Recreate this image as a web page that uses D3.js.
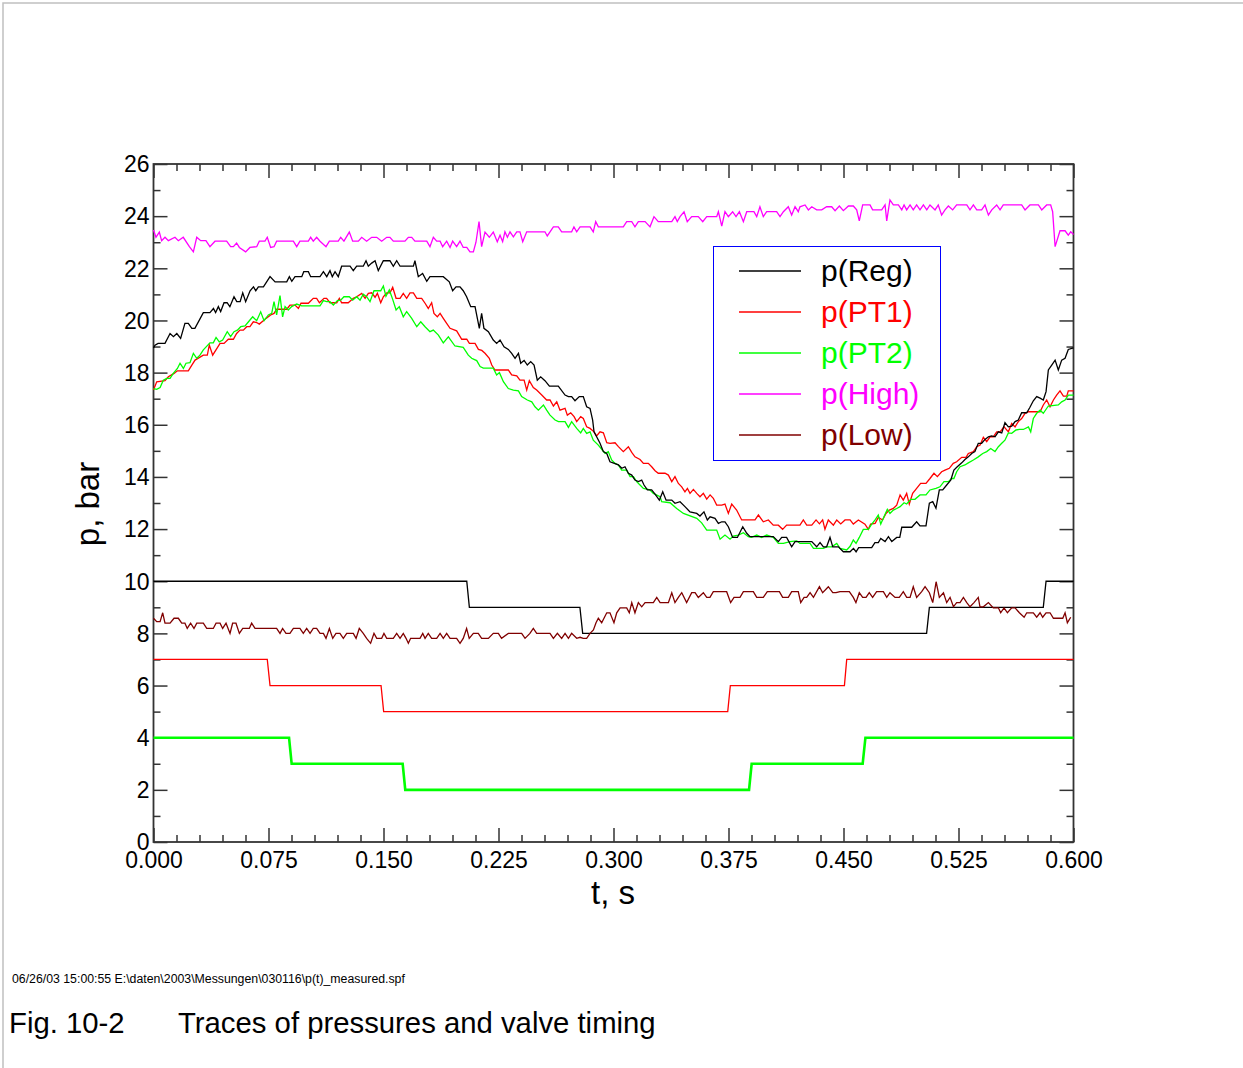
<!DOCTYPE html>
<html>
<head>
<meta charset="utf-8">
<script src="https://cdn.jsdelivr.net/npm/d3@7"></script>
<style>
  html, body { margin: 0; padding: 0; background: #ffffff; }
  svg { display: block; }
  text { font-family: "Liberation Sans", Arial, Helvetica, sans-serif; }
</style>
</head>
<body>
<svg id="chart" width="1243" height="1068"></svg>
<script>
// ---------------- data ----------------
const xTickValues = [0, 0.075, 0.15, 0.225, 0.3, 0.375, 0.45, 0.525, 0.6];
const xTickLabels = ["0.000", "0.075", "0.150", "0.225", "0.300", "0.375", "0.450", "0.525", "0.600"];
const yTickValues = [0, 2, 4, 6, 8, 10, 12, 14, 16, 18, 20, 22, 24, 26];
const yTickLabels = ["0", "2", "4", "6", "8", "10", "12", "14", "16", "18", "20", "22", "24", "26"];

const seriesNames = ["p(Reg)", "p(PT1)", "p(PT2)", "p(High)", "p(Low)"];
const seriesColors = ["#000000", "#ff0000", "#00ff00", "#ff00ff", "#800000"];

// valve timing steps (t in s, value in bar)
const valveRegT = [0, 0.2043, 0.2060, 0.2781, 0.2799, 0.5042, 0.5060, 0.5803, 0.5821, 0.6];
const valveRegV = [10, 10, 9, 9, 8, 8, 9, 9, 10, 10];
const valvePT1T = [0, 0.0742, 0.0760, 0.1484, 0.1501, 0.3745, 0.3762, 0.4506, 0.4521, 0.6];
const valvePT1V = [7, 7, 6, 6, 5, 5, 6, 6, 7, 7];
const valvePT2T = [0, 0.0884, 0.0901, 0.1625, 0.1642, 0.3884, 0.3901, 0.4625, 0.4643, 0.6];
const valvePT2V = [4, 4, 3, 3, 2, 2, 3, 3, 4, 4];

// measured pressures [t, p]
const pReg = [[0,18.95],[0.001,19.05],[0.003,19.12],[0.0075,19.12],[0.0108,19.5],[0.013,19.38],[0.0152,19.5],[0.0177,19.31],[0.0205,19.89],[0.0227,19.89],[0.025,19.7],[0.027,19.7],[0.0325,20.3],[0.0368,20.3],[0.0391,20.46],[0.0405,20.3],[0.0423,20.53],[0.0438,20.34],[0.046,20.68],[0.048,20.68],[0.0498,20.53],[0.0525,20.91],[0.0543,20.72],[0.0565,20.72],[0.0582,21.06],[0.0601,20.72],[0.063,21.14],[0.0652,21.29],[0.0667,21.14],[0.0684,21.29],[0.0717,21.29],[0.076,21.68],[0.0793,21.48],[0.0869,21.48],[0.0886,21.68],[0.0902,21.5],[0.0923,21.68],[0.0967,21.68],[0.098,21.87],[0.101,21.87],[0.1025,21.68],[0.1086,21.68],[0.1108,21.87],[0.113,21.68],[0.1151,21.91],[0.1166,21.68],[0.1184,21.87],[0.1205,21.68],[0.1227,22.08],[0.1282,22.08],[0.1303,21.91],[0.1325,22.08],[0.1368,22.08],[0.1386,22.29],[0.1401,22.08],[0.1423,22.2],[0.1445,22.29],[0.1466,21.91],[0.1499,22.29],[0.1542,22.29],[0.1564,22.08],[0.1586,22.29],[0.1608,22.08],[0.1695,22.08],[0.1705,22.29],[0.1727,21.68],[0.1755,21.8],[0.1782,21.5],[0.1803,21.68],[0.189,21.68],[0.1929,21.48],[0.1951,21.14],[0.1973,21.29],[0.1999,21.29],[0.202,21.14],[0.2042,20.91],[0.2069,20.53],[0.2097,20.53],[0.2125,19.7],[0.214,20.27],[0.2155,19.7],[0.2184,19.57],[0.2216,19.25],[0.2238,19.12],[0.226,19.25],[0.2286,18.99],[0.2314,18.89],[0.2336,18.74],[0.2358,18.55],[0.238,18.74],[0.2395,18.36],[0.2417,18.47],[0.2438,18.29],[0.246,18.42],[0.2482,18.29],[0.2503,17.71],[0.2525,17.84],[0.2553,17.69],[0.2582,17.48],[0.264,17.48],[0.2684,17.14],[0.2706,17.08],[0.2727,17.08],[0.2749,16.92],[0.2777,17.08],[0.2803,17.08],[0.2825,16.69],[0.2847,16.63],[0.2864,16.18],[0.2873,15.73],[0.289,15.54],[0.2912,15.29],[0.2934,14.97],[0.2956,14.9],[0.2977,14.58],[0.301,14.51],[0.3032,14.46],[0.3054,14.33],[0.3075,14.39],[0.3097,14.14],[0.3119,14.07],[0.314,13.88],[0.3162,13.82],[0.3184,13.88],[0.3199,13.69],[0.3221,13.5],[0.3249,13.5],[0.3271,13.34],[0.3299,13.11],[0.3321,13.43],[0.3343,13.11],[0.338,13.11],[0.3401,12.99],[0.3434,13.05],[0.3466,12.86],[0.3499,12.66],[0.3543,12.6],[0.3564,12.5],[0.359,12.66],[0.3612,12.35],[0.363,12.47],[0.3662,12.41],[0.3684,12.22],[0.3706,12.28],[0.3727,12.28],[0.3749,12.09],[0.3777,11.68],[0.3808,11.68],[0.3843,12.09],[0.3869,11.84],[0.389,11.71],[0.3999,11.71],[0.4042,11.71],[0.4075,11.52],[0.4097,11.68],[0.4129,11.68],[0.4162,11.32],[0.4184,11.52],[0.4216,11.52],[0.4293,11.52],[0.4325,11.32],[0.4347,11.48],[0.4369,11.32],[0.439,11.32],[0.4412,11.68],[0.443,11.32],[0.4467,11.32],[0.4499,11.13],[0.4543,11.13],[0.4565,11.26],[0.4582,11.13],[0.4599,11.29],[0.4684,11.29],[0.4705,11.48],[0.4727,11.48],[0.4743,11.64],[0.4771,11.52],[0.4793,11.71],[0.4815,11.52],[0.4847,11.68],[0.4867,11.68],[0.488,12.07],[0.4945,12.07],[0.4977,12.28],[0.4999,12.12],[0.5038,12.12],[0.506,12.99],[0.5082,13.05],[0.5103,12.8],[0.5125,13.5],[0.5147,13.5],[0.5173,13.69],[0.52,13.88],[0.522,14.26],[0.5242,14.39],[0.5271,14.54],[0.5292,14.67],[0.5314,14.77],[0.5336,14.9],[0.5357,14.97],[0.5379,15.29],[0.5401,15.29],[0.5423,15.44],[0.5445,15.54],[0.5466,15.57],[0.5488,15.54],[0.551,15.73],[0.5532,15.69],[0.5553,16.08],[0.5575,15.92],[0.5597,15.95],[0.5619,16.12],[0.564,16.18],[0.5662,16.46],[0.5695,16.46],[0.5716,16.67],[0.5738,16.92],[0.576,17.08],[0.5782,17.02],[0.5803,16.95],[0.5821,17.27],[0.5836,18.1],[0.5858,18.29],[0.588,18.48],[0.5901,18.1],[0.5923,18.48],[0.5945,18.55],[0.5966,18.89],[0.6,18.95]];

const pPT1 = [[0,17.33],[0.0021,17.65],[0.0075,17.69],[0.0097,17.84],[0.0134,17.97],[0.0156,18.07],[0.0227,18.07],[0.025,18.29],[0.0271,18.48],[0.0325,18.67],[0.0351,18.67],[0.0364,19.06],[0.0386,18.67],[0.0434,19.12],[0.046,19.12],[0.0488,19.28],[0.0521,19.28],[0.0542,19.5],[0.0564,19.63],[0.0586,19.63],[0.0608,19.76],[0.0629,19.76],[0.0651,19.95],[0.0673,19.92],[0.069,19.86],[0.0716,19.99],[0.0734,20.08],[0.0764,20.21],[0.0786,20.27],[0.0803,20.43],[0.0869,20.43],[0.089,20.59],[0.0923,20.59],[0.0945,20.46],[0.0962,20.66],[0.101,20.66],[0.1042,20.85],[0.1064,20.85],[0.1082,20.68],[0.1112,20.85],[0.1129,20.85],[0.1151,20.68],[0.1195,20.68],[0.1212,20.85],[0.1227,20.68],[0.127,20.68],[0.1303,20.85],[0.1325,20.91],[0.1358,21.04],[0.138,20.85],[0.1401,21.04],[0.1423,21.06],[0.1445,20.89],[0.146,21.04],[0.1482,20.68],[0.1499,20.91],[0.1521,21.06],[0.1542,21.06],[0.156,21.27],[0.1582,20.85],[0.1608,20.85],[0.1629,21.04],[0.1651,20.85],[0.1673,21.06],[0.1695,21.06],[0.1717,20.85],[0.1749,20.85],[0.1771,20.66],[0.1792,20.46],[0.1814,20.68],[0.1829,20.27],[0.1851,20.14],[0.1869,20.27],[0.189,20.08],[0.1912,19.89],[0.1934,19.7],[0.1977,19.6],[0.201,19.28],[0.2043,19.28],[0.206,19.12],[0.2097,19.12],[0.2119,18.89],[0.2141,18.85],[0.2162,18.74],[0.219,18.55],[0.2206,18.29],[0.2227,18.1],[0.2314,18.1],[0.2336,17.91],[0.2369,17.88],[0.239,17.71],[0.2417,17.71],[0.2434,17.33],[0.2451,17.69],[0.2477,17.43],[0.2499,17.33],[0.2532,17.14],[0.2564,16.95],[0.2586,16.95],[0.2608,16.72],[0.263,16.88],[0.2651,16.56],[0.2684,16.63],[0.2699,16.37],[0.2721,16.46],[0.2743,16.31],[0.276,16.12],[0.2786,16.31],[0.2803,16.24],[0.2825,15.92],[0.2847,15.86],[0.2873,15.73],[0.289,15.57],[0.2912,15.73],[0.2934,15.69],[0.2956,15.31],[0.2977,15.29],[0.301,15.31],[0.3032,15.16],[0.3064,14.97],[0.3097,15.16],[0.3119,14.94],[0.314,14.77],[0.3173,14.67],[0.3195,14.52],[0.3227,14.52],[0.3249,14.39],[0.3271,14.24],[0.3292,14.14],[0.3336,14.14],[0.3358,14.07],[0.338,13.82],[0.3401,14.01],[0.3423,13.75],[0.3445,13.62],[0.3466,13.43],[0.3482,13.56],[0.3499,13.37],[0.3521,13.52],[0.3543,13.37],[0.3564,13.24],[0.3586,13.37],[0.3608,13.15],[0.363,13.31],[0.3651,13.18],[0.3673,12.92],[0.3706,12.92],[0.3727,12.96],[0.3749,12.6],[0.3771,12.96],[0.3803,12.73],[0.3836,12.35],[0.3923,12.35],[0.3945,12.54],[0.3977,12.28],[0.401,12.35],[0.4042,12.15],[0.4075,12.15],[0.4103,11.99],[0.4129,12.15],[0.4216,12.15],[0.4238,12.35],[0.426,12.15],[0.4293,12.15],[0.4321,12.35],[0.4343,12.2],[0.4364,12.35],[0.4379,11.99],[0.4401,12.35],[0.4434,12.15],[0.4456,12.35],[0.4482,12.2],[0.451,12.35],[0.4543,12.35],[0.4564,12.19],[0.4597,12.35],[0.464,12.19],[0.4662,11.99],[0.4677,12.19],[0.4706,12.22],[0.4727,12.45],[0.4755,12.35],[0.4777,12.6],[0.4799,12.73],[0.4825,12.79],[0.4847,12.92],[0.4869,13.31],[0.489,13.11],[0.4912,13.37],[0.4929,12.96],[0.4951,13.37],[0.4977,13.56],[0.5003,13.75],[0.5038,13.75],[0.5064,13.94],[0.509,14.14],[0.5112,14.01],[0.514,14.2],[0.5162,14.26],[0.519,14.33],[0.5216,14.52],[0.5238,14.58],[0.5271,14.75],[0.5299,14.75],[0.5314,14.9],[0.5347,14.97],[0.5369,15.16],[0.5391,15.22],[0.5412,15.52],[0.5434,15.35],[0.5456,15.54],[0.5477,15.54],[0.5499,15.73],[0.5521,15.73],[0.5547,15.92],[0.5575,15.73],[0.5597,16.05],[0.5619,15.92],[0.564,16.12],[0.5662,16.24],[0.5684,16.44],[0.5706,16.5],[0.5749,16.5],[0.5782,16.5],[0.5803,16.76],[0.5825,16.95],[0.5847,16.69],[0.5869,16.95],[0.589,17.14],[0.5912,17.3],[0.5934,17.1],[0.5956,17.1],[0.5966,17.3],[0.6,17.3]];

const pPT2 = [[0,17.39],[0.0021,17.36],[0.0043,17.43],[0.0064,17.71],[0.0086,17.78],[0.0108,17.78],[0.0129,17.97],[0.0156,18.16],[0.0173,18.36],[0.0195,18.16],[0.0212,18.36],[0.0238,18.38],[0.026,18.74],[0.0282,18.55],[0.0303,18.67],[0.0325,18.87],[0.0368,19.14],[0.039,19.14],[0.0408,19.35],[0.0429,19.18],[0.0451,19.25],[0.0481,19.57],[0.0503,19.38],[0.0525,19.57],[0.0547,19.63],[0.0569,19.76],[0.0597,19.79],[0.0625,19.99],[0.0647,20.14],[0.0673,19.99],[0.0699,20.33],[0.0721,19.99],[0.0749,20.21],[0.0771,20.27],[0.0786,20.72],[0.0803,20.21],[0.0825,20.95],[0.0842,20.14],[0.0858,20.53],[0.0879,20.4],[0.0901,20.53],[0.0934,20.63],[0.0966,20.56],[0.1086,20.56],[0.1108,20.76],[0.1129,20.72],[0.1151,20.72],[0.1173,20.59],[0.1199,20.76],[0.1221,20.78],[0.1242,20.91],[0.1277,20.91],[0.1299,20.78],[0.1325,20.91],[0.1347,20.78],[0.1368,21.01],[0.139,20.91],[0.1412,20.72],[0.1438,21.14],[0.1482,21.14],[0.1499,21.32],[0.1516,20.93],[0.1538,21.17],[0.156,20.81],[0.1582,20.4],[0.1603,20.53],[0.1629,20.14],[0.1651,20.34],[0.1684,20.08],[0.1717,19.76],[0.1743,19.95],[0.1771,19.76],[0.1803,19.57],[0.1825,19.63],[0.1858,19.44],[0.189,19.14],[0.1923,19.37],[0.1966,19.02],[0.202,18.97],[0.2053,18.67],[0.2075,18.55],[0.209,18.51],[0.2108,18.46],[0.213,18.23],[0.2151,18.17],[0.2216,18.17],[0.2238,17.91],[0.2256,18.0],[0.2282,17.65],[0.2314,17.39],[0.2347,17.33],[0.238,17.3],[0.2401,17.08],[0.2438,16.95],[0.2467,16.88],[0.2488,16.69],[0.251,16.56],[0.2543,16.76],[0.2564,16.56],[0.2586,16.37],[0.2619,16.18],[0.2641,16.12],[0.2684,16.12],[0.2706,15.9],[0.2727,16.12],[0.276,15.86],[0.2786,15.69],[0.2803,15.86],[0.2825,15.67],[0.2847,15.73],[0.2868,15.41],[0.2901,15.22],[0.2923,15.06],[0.2945,14.9],[0.2966,14.97],[0.2988,14.65],[0.301,14.52],[0.3032,14.46],[0.3053,14.26],[0.3086,14.26],[0.3108,14.01],[0.313,14.01],[0.3151,13.82],[0.3173,13.69],[0.3195,13.56],[0.3238,13.5],[0.326,13.37],[0.3304,13.24],[0.3314,13.05],[0.3369,13.01],[0.3412,12.79],[0.3456,12.6],[0.3543,12.41],[0.3575,12.24],[0.3608,11.96],[0.3673,11.96],[0.3695,11.61],[0.3727,11.77],[0.376,11.61],[0.3781,11.73],[0.3814,11.77],[0.3847,11.86],[0.3879,11.71],[0.3901,11.68],[0.3934,11.77],[0.3966,11.68],[0.3999,11.77],[0.4042,11.68],[0.4075,11.45],[0.4108,11.45],[0.4151,11.52],[0.4195,11.55],[0.4216,11.45],[0.4282,11.45],[0.4304,11.26],[0.4369,11.26],[0.439,11.32],[0.4423,11.32],[0.4456,11.45],[0.4477,11.26],[0.4521,11.2],[0.4543,11.34],[0.4564,11.58],[0.4582,11.45],[0.4603,11.68],[0.4629,11.99],[0.4662,11.99],[0.4684,12.19],[0.4706,12.35],[0.4727,12.54],[0.4743,12.19],[0.4764,12.47],[0.4786,12.76],[0.4803,12.6],[0.4825,12.73],[0.4847,12.79],[0.4869,12.86],[0.4895,13.01],[0.4912,12.96],[0.4938,13.14],[0.4966,13.14],[0.4999,13.31],[0.5038,13.31],[0.5064,13.5],[0.5103,13.56],[0.5129,13.62],[0.5155,13.82],[0.5184,13.82],[0.5205,13.94],[0.522,13.94],[0.5238,14.2],[0.526,14.39],[0.5292,14.46],[0.5314,14.54],[0.5347,14.65],[0.5379,14.77],[0.5408,14.9],[0.5434,14.97],[0.546,15.09],[0.5488,14.97],[0.551,15.16],[0.5532,15.29],[0.5553,15.41],[0.5575,15.69],[0.5597,15.67],[0.5625,15.8],[0.5647,15.82],[0.5673,15.82],[0.5706,15.92],[0.5721,15.73],[0.5738,16.24],[0.576,16.44],[0.5782,16.56],[0.5803,16.44],[0.5836,16.72],[0.5901,16.76],[0.5923,16.88],[0.5945,16.95],[0.5966,17.14],[0.6,17.14]];

const pHigh = [[0,23.47],[0.0016,23.19],[0.0038,23.39],[0.0053,23.06],[0.0075,23.19],[0.0097,23.06],[0.014,23.19],[0.0162,23.06],[0.0194,23.19],[0.0234,22.83],[0.026,22.63],[0.0282,23.19],[0.0308,23.06],[0.0342,23.06],[0.0368,22.83],[0.0401,23.04],[0.0477,23.04],[0.0503,22.83],[0.0521,22.83],[0.0542,22.97],[0.056,22.8],[0.0601,22.63],[0.0629,22.8],[0.0673,22.83],[0.069,23.04],[0.0727,23.04],[0.0742,23.19],[0.0764,22.8],[0.0786,22.83],[0.0803,23.04],[0.0912,23.04],[0.0934,22.83],[0.0955,23.04],[0.101,23.04],[0.1025,23.19],[0.1042,23.04],[0.1064,23.19],[0.1086,23.04],[0.1125,22.83],[0.1147,23.04],[0.1205,23.04],[0.1221,23.19],[0.1242,23.04],[0.1277,23.39],[0.1299,23.04],[0.1336,23.04],[0.1358,23.19],[0.139,23.04],[0.1423,23.19],[0.1456,23.19],[0.1488,23.04],[0.1521,23.19],[0.1542,23.19],[0.1564,23.04],[0.164,23.04],[0.1662,23.19],[0.1684,23.19],[0.1705,23.04],[0.1782,23.04],[0.1803,22.83],[0.1825,23.19],[0.1847,23.04],[0.1869,23.04],[0.1886,22.83],[0.1912,23.04],[0.1934,22.8],[0.1951,23.04],[0.1977,22.83],[0.1999,23.04],[0.202,22.8],[0.2043,22.8],[0.2064,22.63],[0.2086,22.63],[0.2103,23.0],[0.2123,23.79],[0.214,22.83],[0.2162,23.39],[0.219,23.19],[0.2216,23.39],[0.2242,23.02],[0.226,23.27],[0.2277,23.02],[0.2292,23.4],[0.2308,23.19],[0.2325,23.4],[0.2347,23.21],[0.2369,23.4],[0.239,23.4],[0.2408,23.02],[0.2434,23.4],[0.2553,23.4],[0.2568,23.24],[0.2586,23.4],[0.2608,23.59],[0.264,23.59],[0.2662,23.4],[0.2727,23.4],[0.2742,23.59],[0.276,23.4],[0.2782,23.59],[0.2847,23.59],[0.2868,23.4],[0.2884,23.79],[0.2901,23.59],[0.3064,23.59],[0.3086,23.79],[0.3119,23.79],[0.314,23.59],[0.3162,23.79],[0.3206,23.79],[0.3238,23.59],[0.3264,23.98],[0.3292,23.79],[0.338,23.79],[0.3401,23.98],[0.3416,23.79],[0.3434,23.98],[0.346,24.17],[0.3481,23.79],[0.351,23.98],[0.3553,23.98],[0.3582,23.79],[0.3608,23.98],[0.3673,23.98],[0.3684,24.17],[0.3706,23.62],[0.3727,24.17],[0.3749,23.98],[0.3777,24.17],[0.3799,23.98],[0.3821,24.17],[0.3847,23.79],[0.3869,24.17],[0.3916,24.17],[0.3934,23.98],[0.3955,24.36],[0.3977,23.98],[0.3999,24.17],[0.4064,24.17],[0.4086,23.98],[0.4108,24.17],[0.414,24.36],[0.4162,24.04],[0.4184,24.36],[0.4205,24.17],[0.4216,24.36],[0.4249,24.43],[0.4271,24.24],[0.4293,24.36],[0.4325,24.24],[0.4358,24.24],[0.439,24.36],[0.4423,24.36],[0.4445,24.21],[0.4473,24.39],[0.4499,24.21],[0.4532,24.39],[0.4564,24.39],[0.4586,24.24],[0.4603,23.82],[0.4625,24.43],[0.4673,24.43],[0.469,24.24],[0.4749,24.24],[0.4771,24.43],[0.4782,23.82],[0.4803,24.62],[0.4825,24.43],[0.4858,24.43],[0.488,24.24],[0.4895,24.43],[0.4912,24.24],[0.4934,24.43],[0.4955,24.24],[0.4977,24.43],[0.4999,24.24],[0.5021,24.43],[0.5043,24.24],[0.5064,24.43],[0.5097,24.24],[0.5118,24.43],[0.514,24.04],[0.5162,24.24],[0.5184,24.39],[0.5212,24.24],[0.5238,24.43],[0.5304,24.43],[0.5325,24.24],[0.5347,24.43],[0.5369,24.24],[0.5401,24.24],[0.5423,24.43],[0.5445,24.04],[0.5467,24.24],[0.5499,24.43],[0.5521,24.24],[0.5542,24.43],[0.5662,24.43],[0.5684,24.24],[0.5716,24.43],[0.5771,24.43],[0.5793,24.24],[0.5825,24.43],[0.5851,24.43],[0.5864,24.17],[0.588,22.83],[0.5912,23.44],[0.5945,23.44],[0.5966,23.27],[0.5982,23.4],[0.6,23.3]];

const pLow = [[0,8.58],[0.0021,8.45],[0.0043,8.45],[0.006,8.79],[0.0075,8.39],[0.0108,8.39],[0.0134,8.58],[0.0162,8.58],[0.0184,8.39],[0.0205,8.39],[0.022,8.19],[0.0242,8.39],[0.0264,8.19],[0.0282,8.39],[0.0325,8.39],[0.0347,8.19],[0.039,8.19],[0.0408,8.39],[0.0434,8.39],[0.0451,8.19],[0.0473,8.39],[0.0499,8.0],[0.0516,8.39],[0.0538,8.39],[0.056,8.0],[0.0582,8.19],[0.0625,8.19],[0.064,8.39],[0.0662,8.19],[0.0803,8.19],[0.0825,8.0],[0.0842,8.19],[0.0864,8.0],[0.089,8.0],[0.0912,8.19],[0.0955,8.19],[0.0977,8.0],[0.0999,8.19],[0.1021,8.0],[0.1042,8.19],[0.1064,8.19],[0.1086,8.0],[0.1108,8.0],[0.1125,7.81],[0.1147,8.19],[0.1169,7.81],[0.119,8.0],[0.1216,8.0],[0.1238,7.81],[0.126,8.0],[0.1303,8.0],[0.1321,7.81],[0.1342,8.19],[0.1368,8.0],[0.139,7.81],[0.1416,7.62],[0.1438,8.0],[0.1456,7.81],[0.1488,7.81],[0.1503,8.0],[0.1521,7.81],[0.1564,7.81],[0.1586,8.0],[0.1608,7.81],[0.1629,8.0],[0.1647,7.81],[0.1662,7.62],[0.1677,7.81],[0.1738,7.81],[0.1756,8.0],[0.1771,7.81],[0.1792,8.0],[0.1814,7.81],[0.1847,7.81],[0.1869,8.0],[0.189,7.81],[0.1912,8.0],[0.1934,7.81],[0.1977,7.81],[0.1999,7.62],[0.202,7.81],[0.2042,8.19],[0.2059,7.81],[0.2086,8.0],[0.2118,8.0],[0.214,7.81],[0.2184,7.81],[0.2216,8.0],[0.2249,8.0],[0.227,7.81],[0.2314,8.0],[0.2401,8.0],[0.2423,7.81],[0.2455,8.0],[0.2477,8.19],[0.2499,8.0],[0.2586,8.0],[0.2608,7.81],[0.2634,8.0],[0.2662,7.81],[0.2684,8.0],[0.2706,7.81],[0.2727,8.0],[0.276,7.81],[0.2782,7.85],[0.2803,7.81],[0.2825,7.81],[0.2847,8.0],[0.2869,8.13],[0.2886,8.41],[0.2901,8.58],[0.2923,8.41],[0.2956,8.79],[0.2977,8.79],[0.3003,8.41],[0.3021,8.79],[0.3043,8.98],[0.3086,8.98],[0.3103,8.79],[0.3119,9.18],[0.314,8.79],[0.3162,9.18],[0.3184,9.02],[0.3206,9.18],[0.326,9.18],[0.3282,9.38],[0.3304,9.18],[0.3358,9.18],[0.338,9.56],[0.3401,9.18],[0.3423,9.38],[0.3445,9.56],[0.3477,9.18],[0.351,9.56],[0.3532,9.56],[0.3553,9.38],[0.3586,9.56],[0.3608,9.38],[0.3629,9.38],[0.3651,9.6],[0.3738,9.6],[0.3764,9.18],[0.3786,9.38],[0.3825,9.38],[0.3847,9.6],[0.3912,9.6],[0.3934,9.38],[0.3977,9.38],[0.4003,9.6],[0.4082,9.6],[0.4103,9.38],[0.414,9.38],[0.4162,9.6],[0.4205,9.6],[0.4221,9.18],[0.4243,9.38],[0.426,9.38],[0.4282,9.56],[0.4304,9.38],[0.4343,9.79],[0.4364,9.56],[0.4401,9.79],[0.443,9.56],[0.4451,9.56],[0.4477,9.6],[0.4538,9.6],[0.4564,9.38],[0.4581,9.18],[0.4603,9.56],[0.4625,9.38],[0.4647,9.38],[0.4668,9.56],[0.469,9.38],[0.4716,9.6],[0.476,9.6],[0.4782,9.38],[0.4803,9.56],[0.4836,9.38],[0.4864,9.38],[0.489,9.6],[0.4912,9.38],[0.4934,9.38],[0.4955,9.79],[0.4977,9.38],[0.501,9.6],[0.5032,9.79],[0.506,9.56],[0.5082,9.18],[0.5104,9.98],[0.5125,9.38],[0.5152,9.56],[0.5173,9.18],[0.5195,9.38],[0.5217,9.02],[0.5238,9.18],[0.526,9.18],[0.5282,9.38],[0.5304,9.18],[0.5325,9.02],[0.5351,9.18],[0.5379,9.38],[0.539,9.02],[0.5412,9.02],[0.5445,9.18],[0.5477,8.98],[0.551,8.98],[0.5525,8.79],[0.5547,8.98],[0.5569,8.79],[0.5597,8.98],[0.5619,8.98],[0.5647,8.79],[0.5678,8.62],[0.5695,8.79],[0.5738,8.79],[0.576,8.62],[0.5782,8.79],[0.5799,8.62],[0.5821,8.79],[0.5847,8.79],[0.5869,8.58],[0.593,8.58],[0.5945,8.79],[0.596,8.41],[0.5982,8.62]];

// ---------------- drawing ----------------
(function () {
const svg = d3.select("#chart");
const W = 1243, H = 1068;
const plotL = 153.5, plotR = 1073.5, plotT = 164, plotB = 842;

const x = d3.scaleLinear().domain([0, 0.6]).range([plotL, plotR]);
const y = d3.scaleLinear().domain([0, 26]).range([plotB, plotT]);

svg.append("rect").attr("width", W).attr("height", H).attr("fill", "#ffffff");
// page border
svg.append("path").attr("d", `M3,${H} L3,3 L${W},3`).attr("fill", "none")
  .attr("stroke", "#c0c0c0").attr("stroke-width", 1.5);

const FONT = '"Liberation Sans", Arial, Helvetica, sans-serif';
const axisColor = "#333333";

// minor tick positions
const xMinor = d3.range(0, 0.6001, 0.015).filter(v => !xTickValues.some(t => Math.abs(t - v) < 1e-6));
const yMinor = d3.range(1, 26, 2);

function styleAxis(g) {
  g.select(".domain").remove();
  g.selectAll(".tick line").attr("stroke", axisColor).attr("stroke-width", 1.5);
  g.selectAll("text").attr("font-family", FONT).attr("fill", "#000").attr("font-size", 23);
}

// bottom axis
const gB = svg.append("g").attr("transform", `translate(0,${plotB})`)
  .call(d3.axisBottom(x).tickValues(xTickValues).tickSize(-14).tickPadding(10)
    .tickFormat((d, i) => xTickLabels[i]));
styleAxis(gB);
const gBm = svg.append("g").attr("transform", `translate(0,${plotB})`)
  .call(d3.axisBottom(x).tickValues(xMinor).tickSize(-7).tickFormat(""));
styleAxis(gBm);
// top axis
const gT = svg.append("g").attr("transform", `translate(0,${plotT})`)
  .call(d3.axisTop(x).tickValues(xTickValues).tickSize(-14).tickFormat(""));
styleAxis(gT);
const gTm = svg.append("g").attr("transform", `translate(0,${plotT})`)
  .call(d3.axisTop(x).tickValues(xMinor).tickSize(-7).tickFormat(""));
styleAxis(gTm);
// left axis
const gL = svg.append("g").attr("transform", `translate(${plotL},0)`)
  .call(d3.axisLeft(y).tickValues(yTickValues).tickSize(-14).tickPadding(4)
    .tickFormat((d, i) => yTickLabels[i]));
styleAxis(gL);
gL.selectAll("text").attr("dy", "0.34em");
const gLm = svg.append("g").attr("transform", `translate(${plotL},0)`)
  .call(d3.axisLeft(y).tickValues(yMinor).tickSize(-7).tickFormat(""));
styleAxis(gLm);
// right axis
const gR = svg.append("g").attr("transform", `translate(${plotR},0)`)
  .call(d3.axisRight(y).tickValues(yTickValues).tickSize(-14).tickFormat(""));
styleAxis(gR);
const gRm = svg.append("g").attr("transform", `translate(${plotR},0)`)
  .call(d3.axisRight(y).tickValues(yMinor).tickSize(-7).tickFormat(""));
styleAxis(gRm);

// frame
svg.append("rect").attr("x", plotL).attr("y", plotT)
  .attr("width", plotR - plotL).attr("height", plotB - plotT)
  .attr("fill", "none").attr("stroke", axisColor).attr("stroke-width", 1.8);

// lines
const line = d3.line().x(d => x(d[0])).y(d => y(d[1]));
const zipTV = (T, V) => T.map((t, i) => [t, V[i]]);

const plot = svg.append("g");
plot.append("path").datum(zipTV(valveRegT, valveRegV)).attr("d", line)
  .attr("fill", "none").attr("stroke", seriesColors[0]).attr("stroke-width", 1.3);
plot.append("path").datum(zipTV(valvePT1T, valvePT1V)).attr("d", line)
  .attr("fill", "none").attr("stroke", seriesColors[1]).attr("stroke-width", 1.3);
plot.append("path").datum(zipTV(valvePT2T, valvePT2V)).attr("d", line)
  .attr("fill", "none").attr("stroke", seriesColors[2]).attr("stroke-width", 2.6);

const measured = [
  { data: pHigh, color: seriesColors[3] },
  { data: pLow, color: seriesColors[4] },
  { data: pPT1, color: seriesColors[1] },
  { data: pPT2, color: seriesColors[2] },
  { data: pReg, color: seriesColors[0] }
];
measured.forEach(s => {
  plot.append("path").datum(s.data).attr("d", line)
    .attr("fill", "none").attr("stroke", s.color).attr("stroke-width", 1.3)
    .attr("stroke-linejoin", "miter");
});

// axis titles
svg.append("text").attr("x", 613).attr("y", 904).attr("text-anchor", "middle")
  .attr("font-family", FONT).attr("font-size", 33).attr("fill", "#000").text("t, s");
svg.append("text").attr("transform", "translate(99,504) rotate(-90)").attr("text-anchor", "middle")
  .attr("font-family", FONT).attr("font-size", 33).attr("fill", "#000").text("p, bar");

// legend
const lg = svg.append("g");
lg.append("rect").attr("x", 713.5).attr("y", 246.5).attr("width", 227).attr("height", 214)
  .attr("fill", "#ffffff").attr("stroke", "#0000ff").attr("stroke-width", 1);
seriesNames.forEach((name, i) => {
  const yy = 271 + i * 41;
  lg.append("line").attr("x1", 739).attr("x2", 801).attr("y1", yy).attr("y2", yy)
    .attr("stroke", seriesColors[i]).attr("stroke-width", 1.3);
  lg.append("text").attr("x", 821).attr("y", yy).attr("dy", "0.33em")
    .attr("font-family", FONT).attr("font-size", 30).attr("fill", seriesColors[i]).text(name);
});

// footer
svg.append("text").attr("x", 12).attr("y", 983)
  .attr("font-family", FONT).attr("font-size", 12.3).attr("fill", "#000")
  .text("06/26/03 15:00:55 E:\\daten\\2003\\Messungen\\030116\\p(t)_measured.spf");
svg.append("text").attr("x", 9).attr("y", 1033)
  .attr("font-family", FONT).attr("font-size", 29.3).attr("fill", "#000").text("Fig. 10-2");
svg.append("text").attr("x", 178).attr("y", 1033)
  .attr("font-family", FONT).attr("font-size", 29.3).attr("fill", "#000").text("Traces of pressures and valve timing");
})();
</script>
</body>
</html>
